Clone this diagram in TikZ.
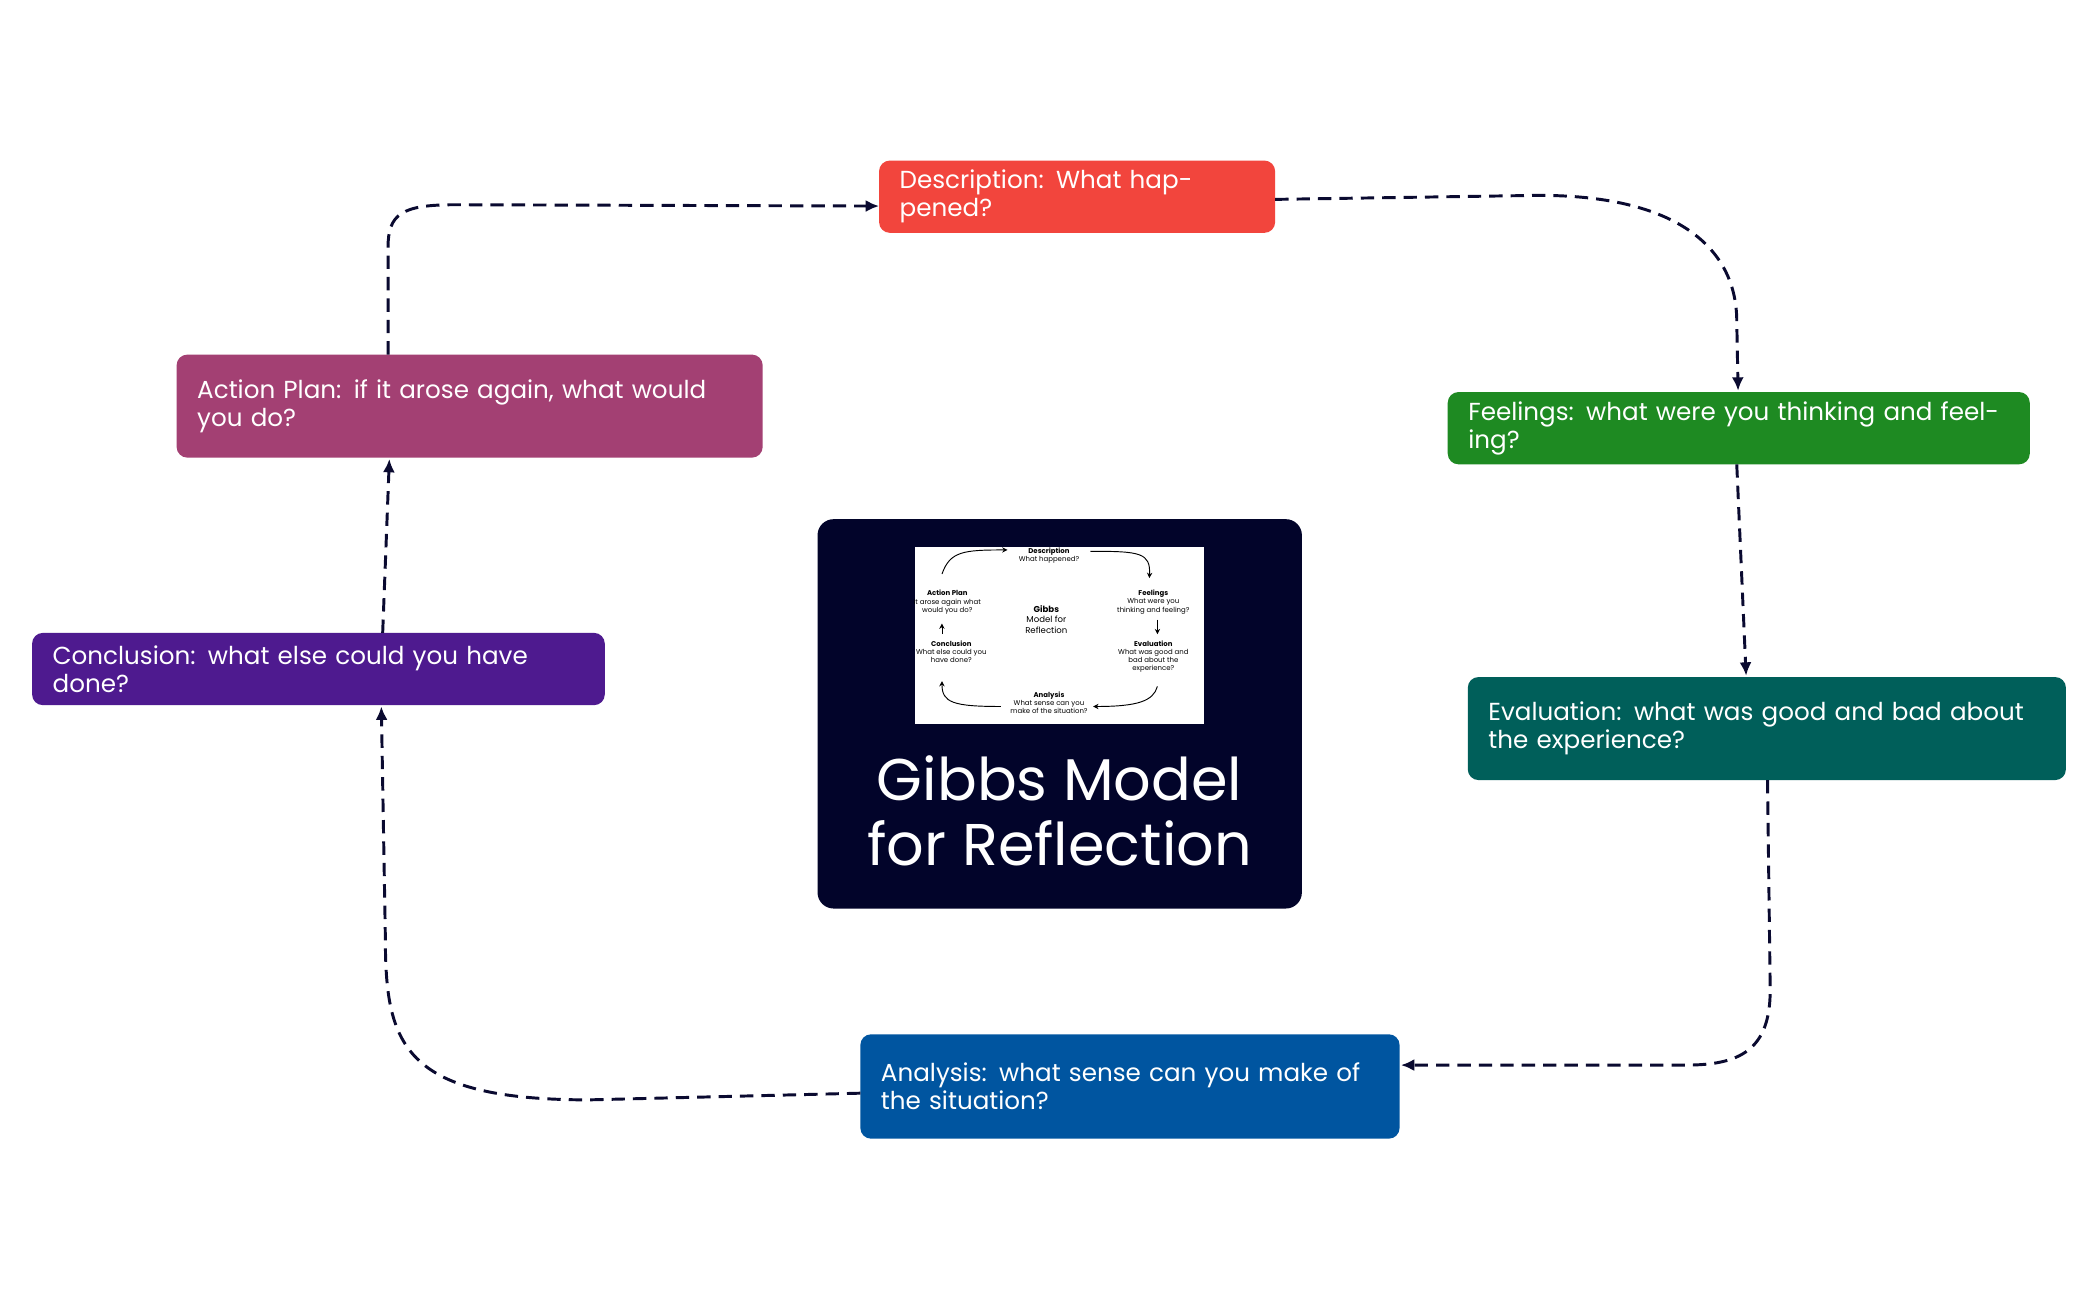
\documentclass[tikz,border=0pt]{standalone}
\usepackage{fontspec}
\setmainfont{Poppins}
\usetikzlibrary{arrows.meta}
\definecolor{cdesc}{HTML}{F2453D}
\definecolor{cfeel}{HTML}{1E8A22}
\definecolor{ceval}{HTML}{005F5A}
\definecolor{cana}{HTML}{0055A0}
\definecolor{cconc}{HTML}{4E1A8F}
\definecolor{cact}{HTML}{A34073}
\definecolor{cnavy}{HTML}{02042A}
\definecolor{carr}{HTML}{0A0A30}
\begin{document}
\begin{tikzpicture}[x=0.5pt,y=-0.5pt,
 box/.style={draw=none,rounded corners=4pt,text=white,align=left,anchor=north west,inner sep=0pt,
   font=\fontsize{9.2}{10.5}\selectfont},
 con/.style={draw=carr,line width=1.1pt,dash pattern=on 5pt off 3pt,-{Latex[length=5pt,width=4.5pt]}},
 mini/.style={font=\fontsize{2.6}{3}\selectfont,align=center,text=black,inner sep=0pt},
 minia/.style={draw=black,line width=0.35pt,-{Stealth[length=2pt,width=2pt]}}]
\useasboundingbox (0,0) rectangle (1568,971.6);
\fill[white] (0,0) rectangle (1568,971.6);
% boxes
\newcommand{\gbox}[7]{%
 \fill[#5,rounded corners=4pt] (#1,#2) rectangle (#3,#4);
 \node[box,text width=(#3-#1-30)*0.5pt] (#6) at (#1+15,{(#2+#4)/2}) [anchor=west] {#7};
 \coordinate (#6-nw) at (#1,#2); \coordinate (#6-se) at (#3,#4);}
\gbox{657}{120}{953}{174}{cdesc}{desc}{Description: What happened?}
\gbox{1082}{293}{1517}{347}{cfeel}{feel}{Feelings: what were you thinking and feeling?}
\gbox{1097}{506}{1544}{583}{ceval}{eval}{Evaluation: what was good and bad about the experience?}
\gbox{643}{773}{1046}{851}{cana}{ana}{Analysis: what sense can you make of the situation?}
\gbox{24}{473}{452}{527}{cconc}{conc}{Conclusion: what else could you have done?}
\gbox{132}{265}{570}{342}{cact}{act}{Action Plan: if it arose again, what would you do?}
% center
\fill[cnavy,rounded corners=6pt] (611,388) rectangle (973,679);
\fill[white] (684,409) rectangle (900,541);
\node[text=white,align=center,font=\fontsize{22}{24}\selectfont] (title) at (792,606) {Gibbs Model\\for Reflection};
\node[mini] (m1) at (784,415) {\textbf{Description}\\What happened?};
\node[mini] (m2) at (862,450) {\textbf{Feelings}\\What were you\\thinking and feeling?};
\node[mini] (m3) at (862,491) {\textbf{Evaluation}\\What was good and\\bad about the\\experience?};
\node[mini] (m4) at (784,525) {\textbf{Analysis}\\What sense can you\\make of the situation?};
\node[mini] (m5) at (711,487) {\textbf{Conclusion}\\What else could you\\have done?};
\node[mini] (m6) at (708,450) {\textbf{Action Plan}\\it arose again what\\would you do?};
\node[mini,font=\fontsize{3.2}{4}\selectfont] (m0) at (782,463) {\textbf{Gibbs}\\Model for\\Reflection};
\draw[minia] (704,429) .. controls (710,412) and (720,411) .. (753,411);
\draw[minia] (815,412) .. controls (852,412) and (860,413) .. (859,432);
\draw[minia] (865,463) -- (865,474);
\draw[minia] (865,513) .. controls (862,524) and (850,528) .. (817,528);
\draw[minia] (748,528) .. controls (712,528) and (704,525) .. (704,509);
\draw[minia] (704,474) -- (704,466);
% connectors
\coordinate (a1) at (290,265);
\draw[con] (a1) -- (290,185) .. controls (290,160) and (300,153) .. (340,153) -- (desc-nw |- 0,154);
\draw[con] (953,149) -- (1150,146) .. controls (1260,146) and (1298,190) .. (1298,240) -- (1299,292);
\draw[con] (1298,347) -- (1305,505);
\draw[con] (1321,583) -- (1323,740) .. controls (1323,785) and (1300,796) .. (1260,796) -- (1047,796);
\draw[con] (643,817) -- (440,822) .. controls (300,822) and (288,780) .. (288,700) -- (285,528);
\draw[con] (286,473) -- (291,343);
\end{tikzpicture}
\end{document}
